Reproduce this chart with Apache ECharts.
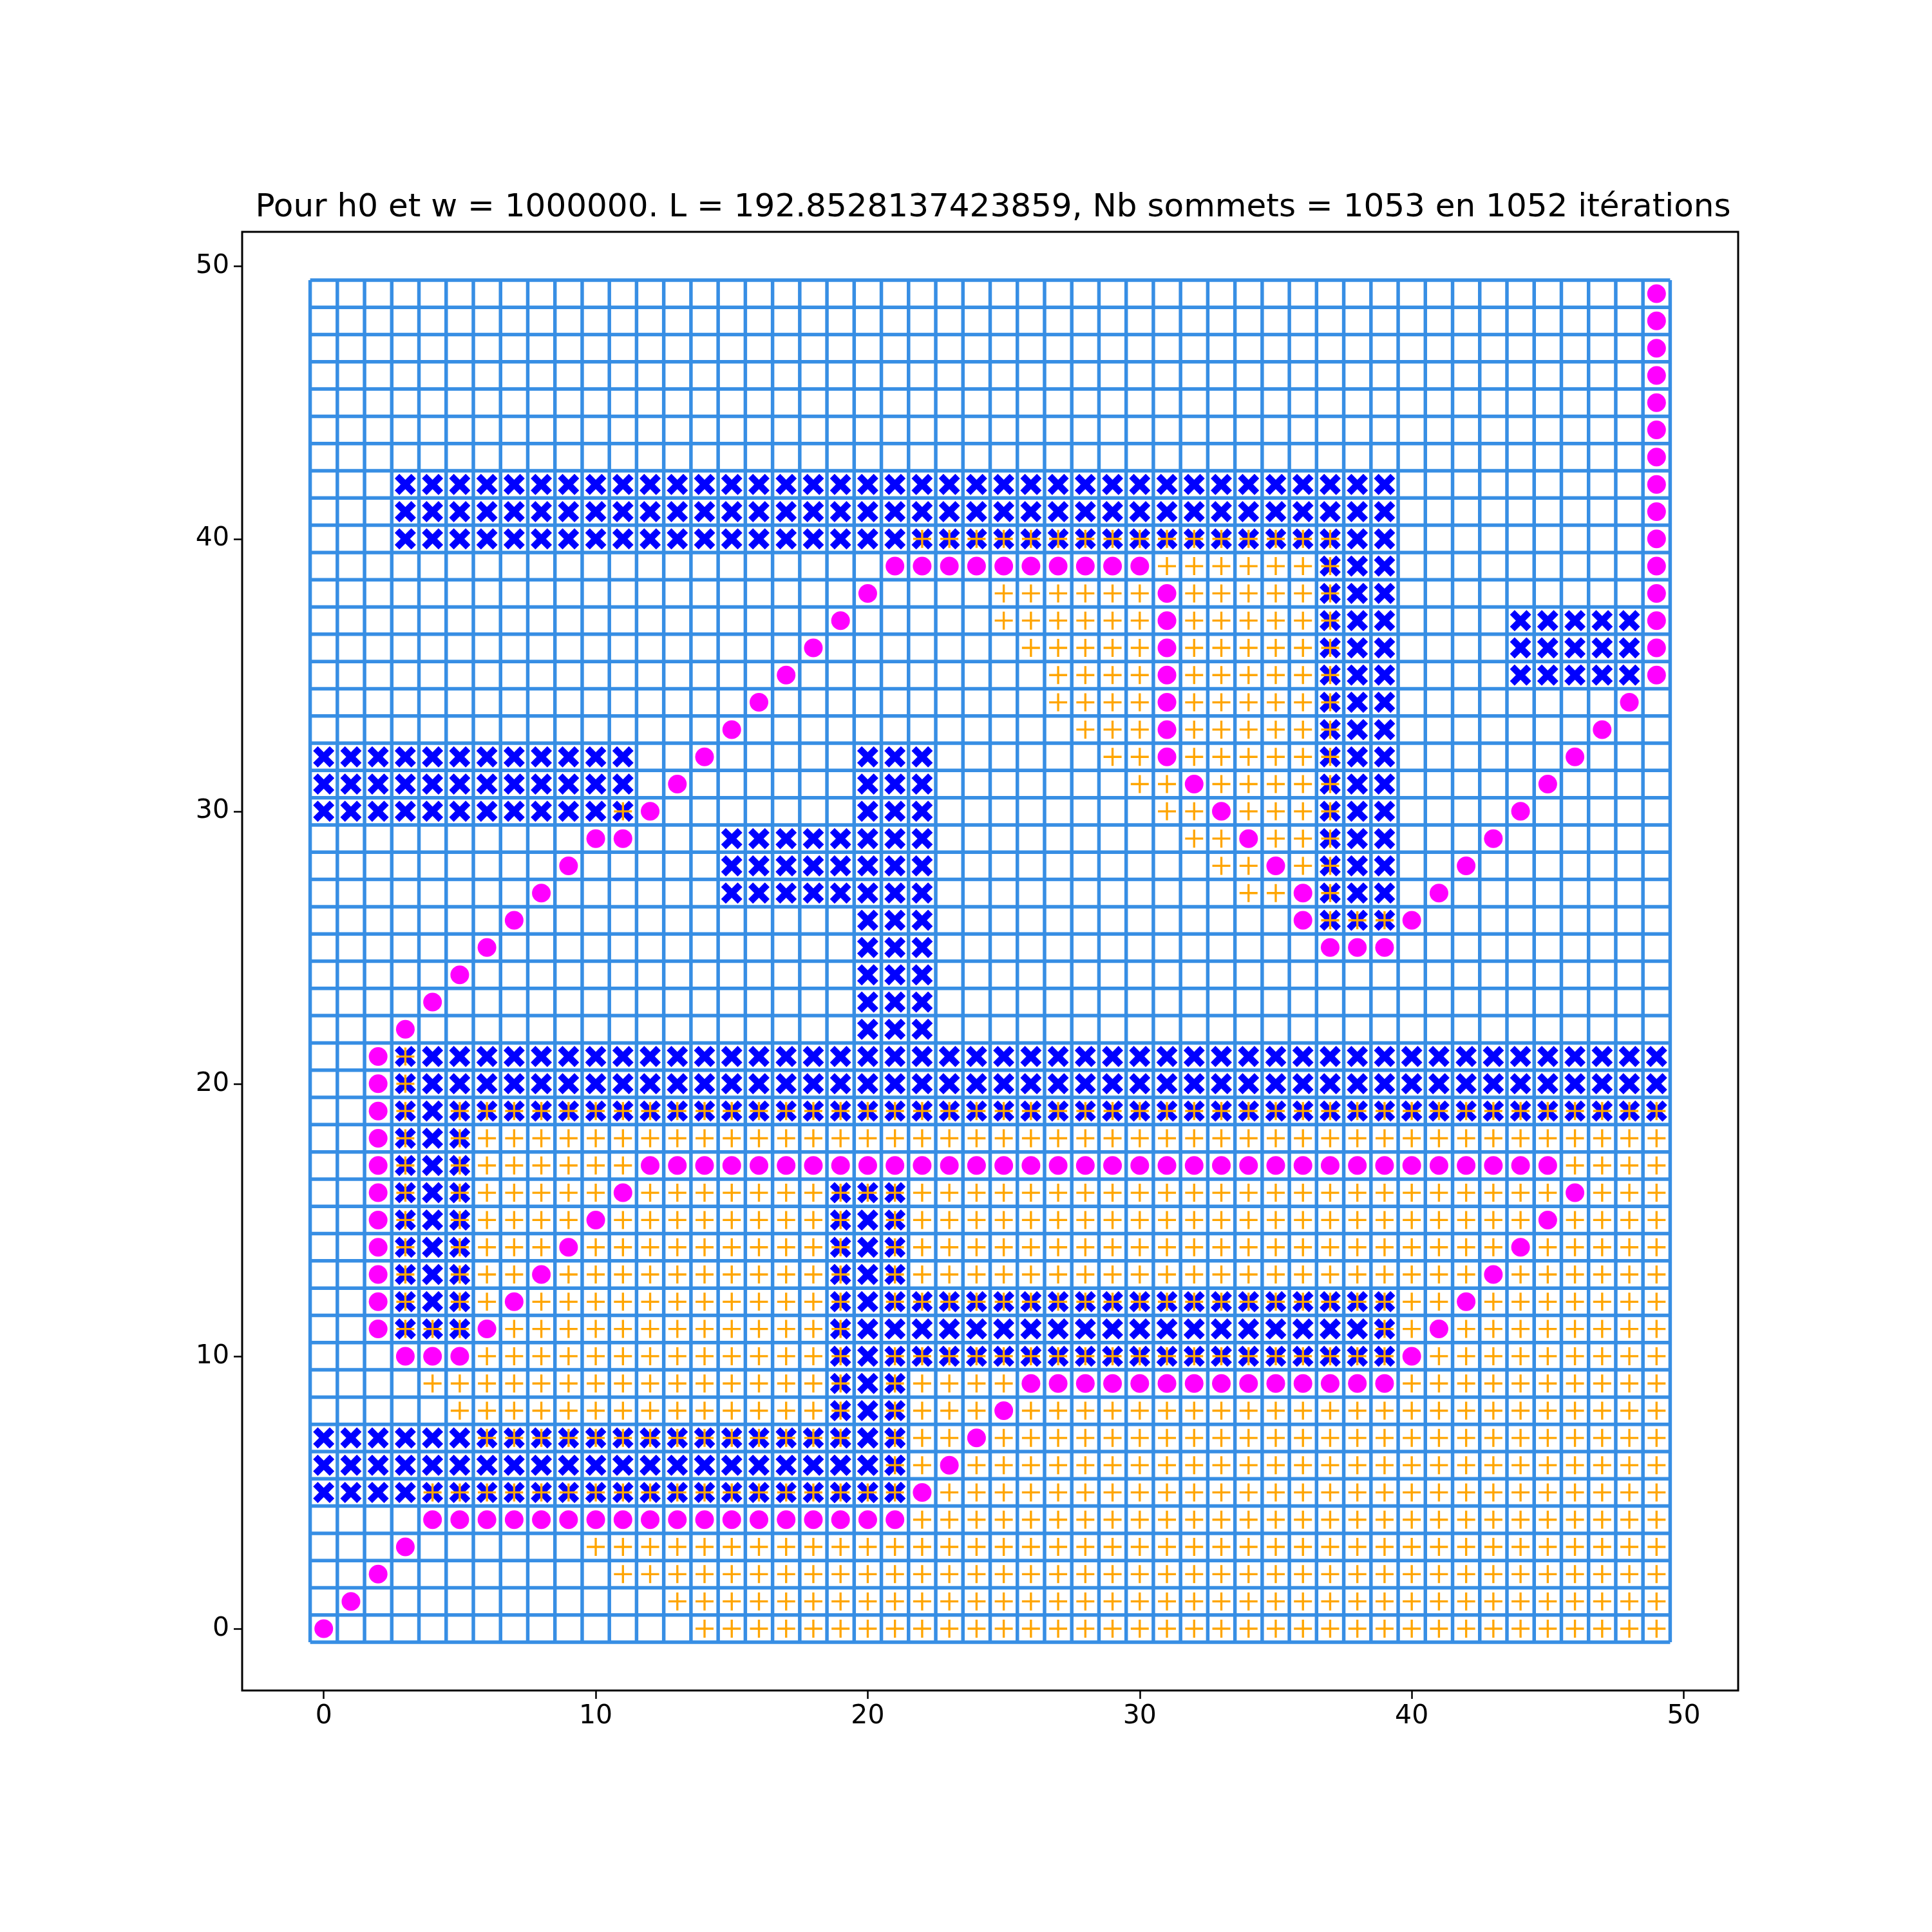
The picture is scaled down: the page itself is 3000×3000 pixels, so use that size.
<!DOCTYPE html>
<html><head><meta charset="utf-8">
<script src="https://cdn.jsdelivr.net/npm/echarts@6/dist/echarts.min.js"></script>
<style>html,body{margin:0;padding:0;background:#fff}#c{width:3000px;height:3000px}</style>
</head><body><div id="c"></div>
<script>
const titleText = "Pour h0 et w = 1000000. L = 192.8528137423859, Nb sommets = 1053 en 1052 itérations";
const tickValues = [0, 10, 20, 30, 40, 50];
// obstacles: [x0, x1, y0, y1]
const obstacleRects = [
  [3,39,40,42],[37,39,26,39],[44,48,35,37],[0,11,30,32],[20,22,22,32],[15,19,27,29],
  [3,49,19,21],[3,5,11,18],[19,21,5,16],[0,21,5,7],[22,39,10,12]
];
// explored vertices: [y, x0, x1]
const exploredSegments = [
  [0,14,49],[1,13,49],[2,11,49],[3,10,49],[4,22,49],
  [5,4,21],[5,23,49],
  [6,21,22],[6,24,49],
  [7,6,19],[7,21,23],[7,25,49],
  [8,5,19],[8,21,24],[8,26,49],
  [9,4,19],[9,21,25],[9,40,49],
  [10,6,19],[10,21,39],[10,41,49],
  [11,3,5],[11,7,19],[11,39,40],[11,42,49],
  [12,3,3],[12,5,6],[12,8,19],[12,21,41],[12,43,49],
  [13,3,3],[13,5,7],[13,9,19],[13,21,42],[13,44,49],
  [14,3,3],[14,5,8],[14,10,19],[14,21,43],[14,45,49],
  [15,3,3],[15,5,9],[15,11,19],[15,21,44],[15,46,49],
  [16,3,3],[16,5,10],[16,12,45],[16,47,49],
  [17,3,3],[17,5,11],[17,46,49],
  [18,3,3],[18,5,49],
  [19,3,3],[19,5,49],
  [20,3,3],[21,3,3],
  [26,37,39],[27,34,35],[27,37,37],[28,33,34],[28,36,37],[29,32,33],[29,35,37],
  [30,11,11],[30,31,32],[30,34,37],[31,30,31],[31,33,37],[32,29,30],[32,32,37],
  [33,28,30],[33,32,37],[34,27,30],[34,32,37],[35,27,30],[35,32,37],[36,26,30],[36,32,37],
  [37,25,30],[37,32,37],[38,25,30],[38,32,37],[39,31,37],[40,22,37]
];
// path vertices: [y, x0, x1]
const pathSegments = [
  [0,0,0],[1,1,1],[2,2,2],[3,3,3],[4,4,21],[5,22,22],[6,23,23],[7,24,24],[8,25,25],[9,26,39],
  [10,3,5],[10,40,40],[11,2,2],[11,6,6],[11,41,41],[12,2,2],[12,7,7],[12,42,42],
  [13,2,2],[13,8,8],[13,43,43],[14,2,2],[14,9,9],[14,44,44],[15,2,2],[15,10,10],[15,45,45],
  [16,2,2],[16,11,11],[16,46,46],[17,2,2],[17,12,45],[18,2,2],[19,2,2],[20,2,2],[21,2,2],
  [22,3,3],[23,4,4],[24,5,5],[25,6,6],[25,37,39],[26,7,7],[26,36,36],[26,40,40],
  [27,8,8],[27,36,36],[27,41,41],[28,9,9],[28,35,35],[28,42,42],[29,10,11],[29,34,34],[29,43,43],
  [30,12,12],[30,33,33],[30,44,44],[31,13,13],[31,32,32],[31,45,45],[32,14,14],[32,31,31],[32,46,46],
  [33,15,15],[33,31,31],[33,47,47],[34,16,16],[34,31,31],[34,48,48],[35,17,17],[35,31,31],[35,49,49],
  [36,18,18],[36,31,31],[36,49,49],[37,19,19],[37,31,31],[37,49,49],[38,20,20],[38,31,31],[38,49,49],
  [39,21,30],[39,49,49],[40,49,49],[41,49,49],[42,49,49],[43,49,49],[44,49,49],[45,49,49],
  [46,49,49],[47,49,49],[48,49,49],[49,49,49]
];
const gridSize = 50;

function fromSegments(segs){const o=[];segs.forEach(([y,a,b])=>{for(let x=a;x<=b;x++)o.push([x,y]);});return o;}
function fromRects(rs){const o=[];rs.forEach(([a,b,c,d])=>{for(let y=c;y<=d;y++)for(let x=a;x<=b;x++)o.push([x,y]);});return o;}
const gridLine=[];
for(let i=0;i<=gridSize;i++){const v=i-0.5;
  gridLine.push([v,-0.5],[v,gridSize-0.5],['-','-']);
  gridLine.push([-0.5,v],[gridSize-0.5,v],['-','-']);}

const X_PATH='path://M0,2.2L2.2,0L5,2.8L7.8,0L10,2.2L7.2,5L10,7.8L7.8,10L5,7.2L2.2,10L0,7.8L2.8,5Z';
const PLUS_PATH='path://M4.4,0H5.6V4.4H10V5.6H5.6V10H4.4V5.6H0V4.4H4.4Z';
const font='DejaVu Sans';
const chart=echarts.init(document.getElementById('c'),null,{renderer:'canvas'});
const axisCommon=(min,max)=>({type:'value',min,max,splitLine:{show:false},
  axisLine:{show:false,onZero:false},
  axisTick:{show:true,length:13,inside:false,lineStyle:{color:'#000',width:2.5},customValues:tickValues},
  axisLabel:{show:true,fontFamily:font,fontSize:41,color:'#000',margin:20,customValues:tickValues}});
chart.setOption({
  animation:false,
  backgroundColor:'#fff',
  title:{text:titleText,left:1537,top:293,textAlign:'center',textStyle:{fontFamily:font,fontSize:50,fontWeight:'normal',color:'#000'}},
  grid:{left:376,top:360,width:2323,height:2265,show:true,borderColor:'#000',borderWidth:3,backgroundColor:'transparent'},
  xAxis:axisCommon(-3,52),
  yAxis:axisCommon(-2.27,51.27),
  series:[
    {type:'line',data:gridLine,symbol:'none',connectNulls:false,lineStyle:{color:'#378ee4',width:5.5},z:1},
    {type:'scatter',data:fromRects(obstacleRects),symbol:X_PATH,symbolSize:33,itemStyle:{color:'#0000ff',opacity:1},z:2},
    {type:'scatter',data:fromSegments(exploredSegments),symbol:PLUS_PATH,symbolSize:28,itemStyle:{color:'#ffa500',opacity:1},z:3},
    {type:'scatter',data:fromSegments(pathSegments),symbol:'circle',symbolSize:29,itemStyle:{color:'#ff00ff',opacity:1},z:4}
  ]
});
</script></body></html>
